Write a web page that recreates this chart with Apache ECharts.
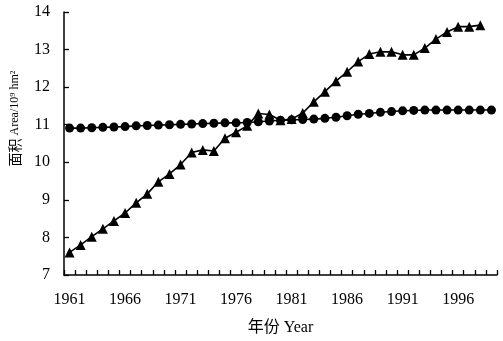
<!DOCTYPE html>
<html>
<head>
<meta charset="utf-8">
<script src="https://cdn.jsdelivr.net/npm/echarts@6/dist/echarts.min.js"></script>
<style>
  html, body { margin: 0; padding: 0; background: #fff; }
  #chart { width: 503px; height: 341px; }
</style>
</head>
<body>
<div id="chart"></div>
<script>
const years = [];
for (let y = 1961; y <= 1999; y++) years.push(String(y));

// triangles, 1961-1998
const triangleSeries = [
  7.60, 7.80, 8.02, 8.23, 8.44, 8.65, 8.92, 9.16, 9.48, 9.69,
  9.94, 10.26, 10.33, 10.30, 10.64, 10.80, 10.97, 11.30, 11.27, 11.12,
  11.15, 11.31, 11.61, 11.88, 12.16, 12.41, 12.68, 12.88, 12.94, 12.94,
  12.86, 12.86, 13.04, 13.28, 13.47, 13.61, 13.61, 13.65
];

// circles, 1961-1999
const circleSeries = [
  10.91, 10.91, 10.92, 10.93, 10.94, 10.95, 10.97, 10.98, 10.99, 11.00,
  11.01, 11.02, 11.03, 11.04, 11.05, 11.05, 11.06, 11.08, 11.10, 11.12,
  11.13, 11.14, 11.15, 11.17, 11.20, 11.24, 11.28, 11.30, 11.33, 11.35,
  11.37, 11.38, 11.39, 11.39, 11.39, 11.39, 11.39, 11.39, 11.39
];

const yTicks = { min: 7, max: 14, step: 1 };

const serif = "'Liberation Serif', 'Noto Sans CJK SC', serif";

const chart = echarts.init(document.getElementById("chart"));
chart.setOption({
  animation: false,
  grid: { left: 64, right: 6, top: 12, bottom: 66 },
  xAxis: {
    type: "category",
    data: years,
    boundaryGap: true,
    name: "年份 Year",
    nameLocation: "middle",
    nameGap: 45,
    nameTextStyle: { color: "#000", fontSize: 16, fontFamily: serif },
    axisLine: { show: true, lineStyle: { color: "#000", width: 1.5 } },
    axisTick: { show: true, inside: true, length: 5, interval: 0, lineStyle: { color: "#000", width: 1.3 } },
    axisLabel: { interval: 4, color: "#000", fontSize: 16, fontFamily: serif, margin: 17 },
    splitLine: { show: false }
  },
  yAxis: {
    type: "value",
    min: yTicks.min,
    max: yTicks.max,
    interval: yTicks.step,
    name: "{cn|面积} {en|Area/10⁹ hm²}",
    nameLocation: "middle",
    nameGap: 42,
    nameRotate: 90,
    nameTextStyle: {
      color: "#000", fontFamily: serif, padding: [0, 0, 0, 50],
      rich: {
        cn: { fontSize: 14, fontFamily: "'Noto Sans CJK SC', serif", color: "#000" },
        en: { fontSize: 12, fontFamily: serif, color: "#000" }
      }
    },
    axisLine: { show: true, lineStyle: { color: "#000", width: 1.5 } },
    axisTick: { show: true, inside: true, length: 5, lineStyle: { color: "#000", width: 1.3 } },
    axisLabel: { color: "#000", fontSize: 16, fontFamily: serif, margin: 14 },
    splitLine: { show: false }
  },
  series: [
    {
      name: "circle",
      type: "line",
      data: circleSeries,
      symbol: "circle",
      symbolSize: 9,
      showSymbol: true,
      showAllSymbol: true,
      itemStyle: { color: "#000" },
      lineStyle: { color: "#000", width: 1.6 }
    },
    {
      name: "triangle",
      type: "line",
      data: triangleSeries,
      symbol: "triangle",
      symbolSize: 10,
      showSymbol: true,
      showAllSymbol: true,
      itemStyle: { color: "#000" },
      lineStyle: { color: "#000", width: 1.6 }
    }
  ]
});
</script>
</body>
</html>
